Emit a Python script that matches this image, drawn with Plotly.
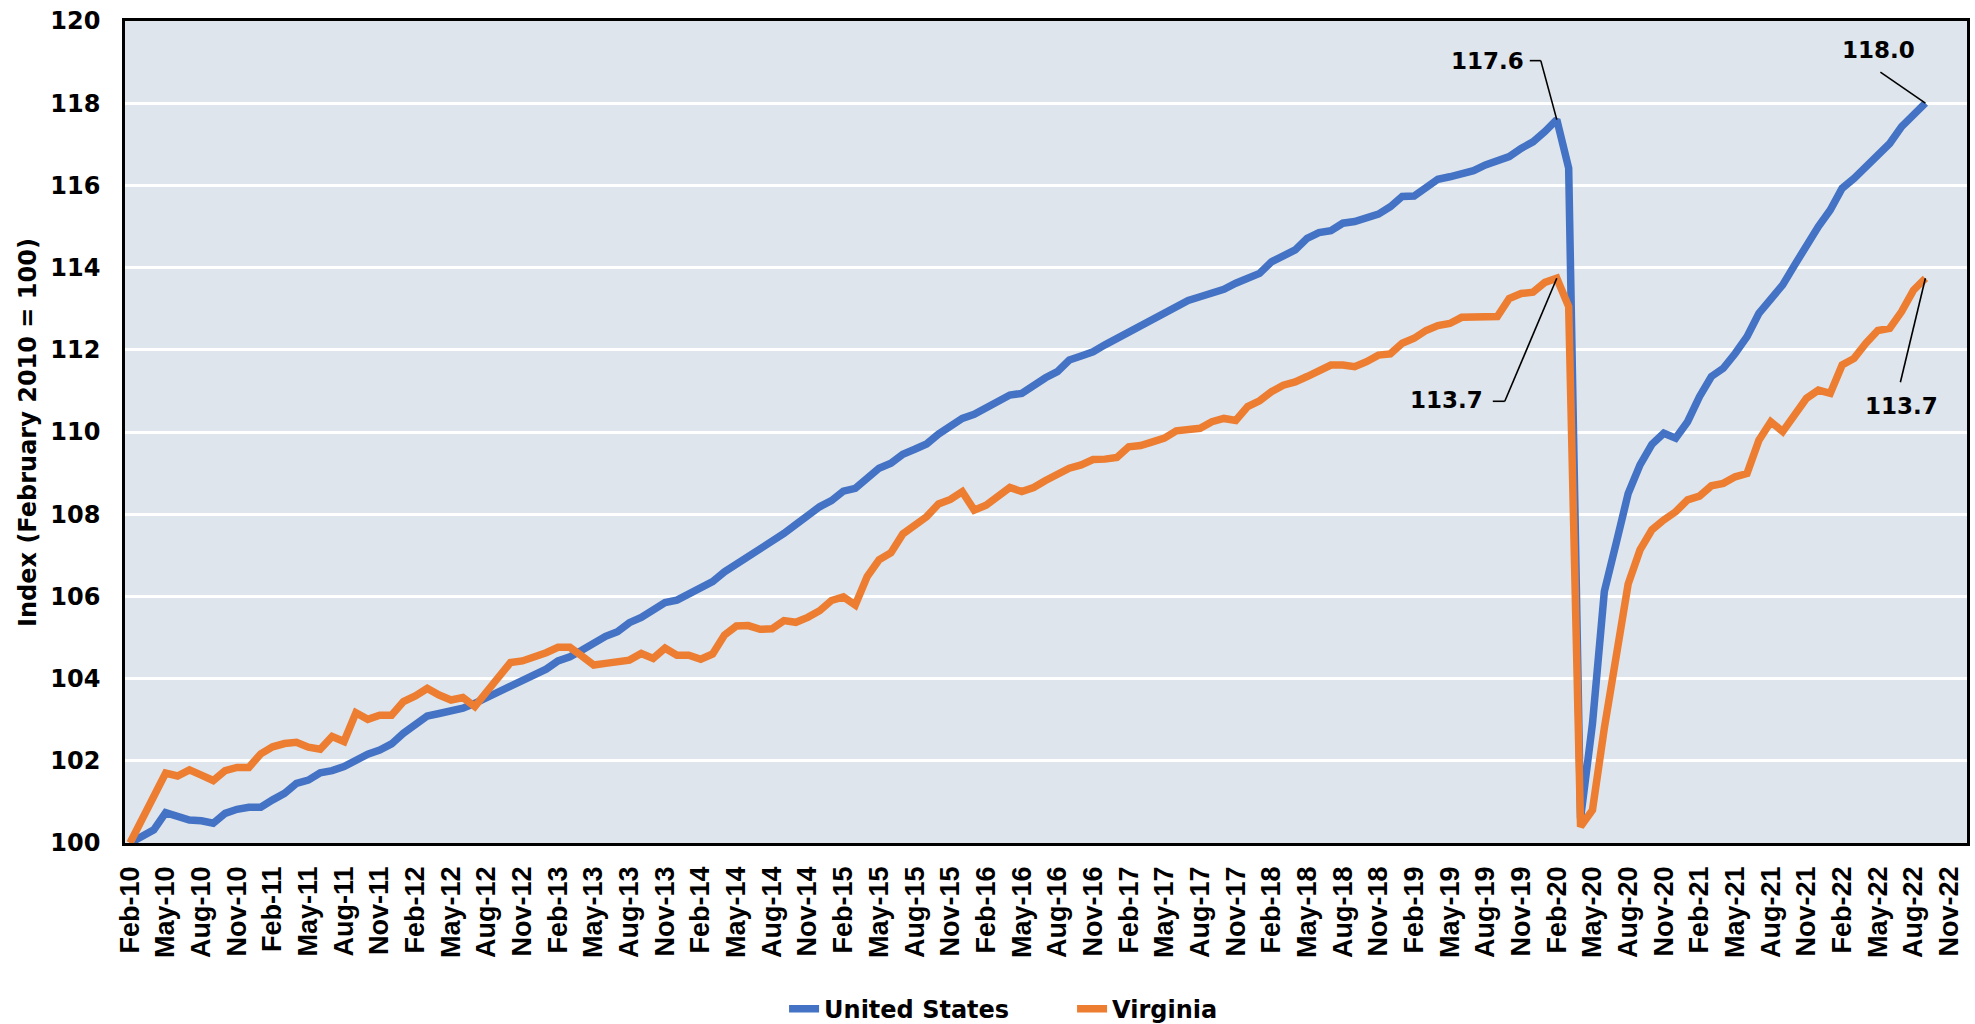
import plotly.graph_objects as go

# Monthly index values, Feb-10 .. Sep-22 (February 2010 = 100)
us = [
    100.00, 100.17, 100.32, 100.74, 100.64, 100.56, 100.54, 100.48, 100.72, 100.82,
    100.87, 100.87, 101.05, 101.21, 101.45, 101.53, 101.71, 101.76, 101.86, 102.02,
    102.16, 102.26, 102.41, 102.67, 102.89, 103.09, 103.15, 103.22, 103.28, 103.40,
    103.54, 103.68, 103.79, 103.93, 104.09, 104.23, 104.43, 104.53, 104.69, 104.88,
    105.03, 105.14, 105.36, 105.49, 105.65, 105.85, 105.91, 106.05, 106.20, 106.36,
    106.60, 106.78, 107.01, 107.19, 107.33, 107.53, 107.75, 107.96, 108.18, 108.33,
    108.56, 108.63, 108.85, 109.12, 109.24, 109.46, 109.58, 109.71, 109.95, 110.13,
    110.33, 110.43, 110.60, 110.76, 110.90, 110.94, 111.14, 111.32, 111.47, 111.75,
    111.85, 111.95, 112.12, 112.28, 112.44, 112.56, 112.73, 112.89, 113.05, 113.20,
    113.29, 113.37, 113.47, 113.62, 113.74, 113.86, 114.14, 114.31, 114.43, 114.71,
    114.85, 114.90, 115.08, 115.12, 115.22, 115.30, 115.48, 115.73, 115.74, 115.93,
    116.15, 116.21, 116.29, 116.36, 116.50, 116.62, 116.70, 116.90, 117.06, 117.31,
    117.60, 116.42, 100.60, 102.90, 106.12, 107.30, 108.50, 109.20, 109.70, 109.97,
    109.85, 110.25, 110.86, 111.35, 111.55, 111.91, 112.32, 112.89, 113.21, 113.58,
    114.06, 114.55, 115.00, 115.40, 115.93, 116.17, 116.46, 116.74, 117.02, 117.43,
    117.71, 118.00,
]

virginia = [
    100.00, 100.55, 101.10, 101.70, 101.63, 101.78, 101.65, 101.52, 101.76, 101.84,
    101.84, 102.17, 102.34, 102.42, 102.45, 102.33, 102.28, 102.59, 102.47, 103.17,
    103.01, 103.11, 103.11, 103.44, 103.58, 103.76, 103.60, 103.48, 103.54, 103.32,
    103.68, 104.05, 104.39, 104.43, 104.51, 104.63, 104.76, 104.76, 104.55, 104.33,
    104.37, 104.40, 104.45, 104.61, 104.49, 104.74, 104.57, 104.57, 104.47, 104.60,
    105.06, 105.28, 105.29, 105.20, 105.21, 105.41, 105.37, 105.49, 105.65, 105.90,
    105.99, 105.79, 106.48, 106.89, 107.06, 107.52, 107.74, 107.94, 108.25, 108.36,
    108.55, 108.10, 108.22, 108.43, 108.65, 108.55, 108.65, 108.82, 108.99, 109.12,
    109.20, 109.33, 109.34, 109.38, 109.64, 109.67, 109.76, 109.85, 110.03, 110.06,
    110.09, 110.25, 110.33, 110.28, 110.62, 110.76, 110.98, 111.14, 111.22, 111.35,
    111.49, 111.63, 111.63, 111.59, 111.71, 111.87, 111.90, 112.16, 112.28, 112.47,
    112.59, 112.64, 112.79, 112.79, 112.82, 112.81, 113.25, 113.37, 113.40, 113.64,
    113.74, 113.05, 100.40, 100.80, 102.80, 104.70, 106.30, 107.13, 107.62, 107.86,
    108.06, 108.35, 108.44, 108.69, 108.75, 108.91, 108.99, 109.80, 110.25, 110.01,
    110.41, 110.82, 111.02, 110.94, 111.63, 111.79, 112.16, 112.47, 112.52, 112.93,
    113.45, 113.74,
]

tick_labels = [
    "Feb-10", "May-10", "Aug-10", "Nov-10", "Feb-11", "May-11", "Aug-11", "Nov-11",
    "Feb-12", "May-12", "Aug-12", "Nov-12", "Feb-13", "May-13", "Aug-13", "Nov-13",
    "Feb-14", "May-14", "Aug-14", "Nov-14", "Feb-15", "May-15", "Aug-15", "Nov-15",
    "Feb-16", "May-16", "Aug-16", "Nov-16", "Feb-17", "May-17", "Aug-17", "Nov-17",
    "Feb-18", "May-18", "Aug-18", "Nov-18", "Feb-19", "May-19", "Aug-19", "Nov-19",
    "Feb-20", "May-20", "Aug-20", "Nov-20", "Feb-21", "May-21", "Aug-21", "Nov-21",
    "Feb-22", "May-22", "Aug-22", "Nov-22",
]
tick_step = 3  # months between labels

series_names = ["United States", "Virginia"]
colors = ["#4472C4", "#ED7D31"]

x = list(range(len(us)))
tickvals = [i * tick_step for i in range(len(tick_labels))]

GOTHAM = "DejaVu Sans"
ARIAL = "Liberation Sans"

fig = go.Figure()
for name, vals, col in zip(series_names, [us, virginia], colors):
    fig.add_trace(go.Scatter(
        x=x, y=vals, mode="lines", name=name,
        line=dict(color=col, width=7.5),
        hoverinfo="skip",
    ))

# Highlighted values: (series, index, text dx, text dy, leader points) in px
peak = 120
last = len(us) - 1
labels = [
    (us, peak, -69, -59, [(-27, -59), (-16, -59), (0, 0)]),
    (virginia, peak, -110, 122, [(-64, 123), (-52, 123), (0, 0)]),
    (us, last, -47, -53, [(-45, -31), (0, 0)]),
    (virginia, last, -24, 128, [(-25, 104), (0, 0)]),
]
annotations = []
shapes = []
for vals, idx, dx, dy, pts in labels:
    annotations.append(dict(
        x=idx, y=vals[idx], xref="x", yref="y",
        text=f"{vals[idx]:.1f}", showarrow=False,
        xshift=dx, yshift=-dy,
        font=dict(family=GOTHAM, size=23, color="black", weight="bold"),
    ))
    for (ax0, ay0), (ax1, ay1) in zip(pts[:-1], pts[1:]):
        shapes.append(dict(
            type="line", xref="x", yref="y",
            xsizemode="pixel", ysizemode="pixel",
            xanchor=idx, yanchor=vals[idx],
            x0=ax0, x1=ax1, y0=-ay0, y1=-ay1,
            line=dict(color="black", width=1.6),
        ))

annotations.append(dict(
    x=-0.0527, y=0.5, xref="paper", yref="paper",
    text="Index (February 2010 = 100)", textangle=-90, showarrow=False,
    xanchor="center", yanchor="middle",
    font=dict(family=GOTHAM, size=24, color="black", weight="bold"),
))

fig.update_layout(
    width=1975, height=1024,
    margin=dict(l=125, r=8, t=21, b=181, autoexpand=False),
    paper_bgcolor="white",
    plot_bgcolor="#DEE5EC",
    showlegend=True,
    legend=dict(
        orientation="h", x=0.3578, y=-0.202, xanchor="left", yanchor="middle",
        font=dict(family=GOTHAM, size=24, color="black", weight="bold"),
        entrywidth=243, entrywidthmode="pixels",
        tracegroupgap=0, bgcolor="rgba(0,0,0,0)",
    ),
    xaxis=dict(
        range=[-0.42, 154.5],
        tickmode="array", tickvals=tickvals, ticktext=tick_labels,
        tickangle=-90, ticks="", ticklabelstandoff=10,
        tickfont=dict(family=ARIAL, size=27, color="black", weight="bold"),
        showgrid=False, zeroline=False,
        showline=True, linecolor="black", linewidth=2.5, mirror=True,
    ),
    yaxis=dict(
        range=[100, 120], dtick=2, tick0=100,
        ticks="", ticklabelstandoff=17,
        tickfont=dict(family=GOTHAM, size=24, color="black", weight="bold"),
        showgrid=True, gridcolor="white", gridwidth=2.5,
        zeroline=False,
        showline=True, linecolor="black", linewidth=2.5, mirror=True,
    ),
    annotations=annotations,
    shapes=shapes,
)

fig.write_html(
    "out.html",
    config={"displayModeBar": False},
    post_script="document.body.style.margin='0';",
)
